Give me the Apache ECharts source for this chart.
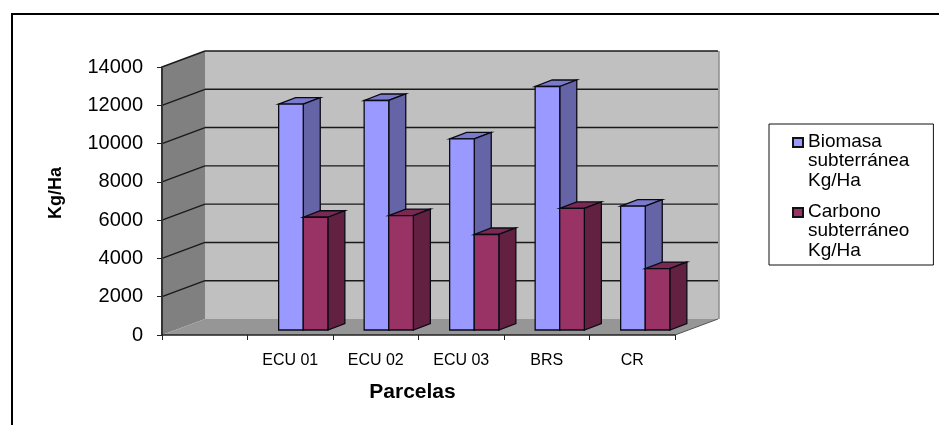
<!DOCTYPE html>
<html>
<head>
<meta charset="utf-8">
<style>
  html, body { margin: 0; padding: 0; background: #fff; }
  #chart { width: 939px; height: 425px; }
</style>
<script src="https://cdn.jsdelivr.net/npm/echarts@6/dist/echarts.min.js"></script>
</head>
<body>
<div id="chart"></div>
<script>
// first slot of the axis stays empty, as in the original
const categories = ["", "ECU 01", "ECU 02", "ECU 03", "BRS", "CR"];
const biomasa = [null, 11800, 11990, 9980, 12720, 6470];
const carbono = [null, 5890, 5980, 4990, 6350, 3210];
const yTicks = [0, 2000, 4000, 6000, 8000, 10000, 12000, 14000];

const FONT = "Liberation Sans";
const LINE = "#1a1a1a";
// depth of the fake 3D box
const WALL_DX = 43, WALL_DY = -16;
// bars sit inside the box, they have less depth than it
const BAR_SHIFT_X = 13, BAR_SHIFT_Y = -5, BAR_DX = 17, BAR_DY = -6.5;
const BAR_W = 24.6 / 85.5;

const poly = (points, fill, stroke, lineWidth) => ({
  type: "polygon",
  shape: { points },
  style: { fill, stroke, lineWidth: lineWidth || 0 },
});

// back wall, side wall and floor
const renderBox = (params, api) => {
  const a = api.coord([0, 0]);
  const top = api.coord([0, 14000]);
  const size = api.size([1, 0])[0];
  const x0 = a[0] - size / 2;
  const x1 = x0 + size * categories.length;
  const y0 = a[1];
  const y1 = top[1];
  return {
    type: "group",
    children: [
      poly([[x0 + WALL_DX, y1 + WALL_DY], [x1 + WALL_DX + 1, y1 + WALL_DY], [x1 + WALL_DX + 1, y0 + WALL_DY], [x0 + WALL_DX, y0 + WALL_DY]], "#c0c0c0"),
      { type: "line", shape: { x1: x1 + WALL_DX + 1, y1: y1 + WALL_DY, x2: x1 + WALL_DX + 1, y2: y0 + WALL_DY }, style: { stroke: "#8c8c8c", lineWidth: 1.5 } },
      poly([[x0, y1], [x0 + WALL_DX, y1 + WALL_DY], [x0 + WALL_DX, y0 + WALL_DY], [x0, y0]], "#808080"),
      poly([[x0, y0], [x0 + WALL_DX, y0 + WALL_DY], [x1 + WALL_DX, y0 + WALL_DY], [x1, y0]], "#969696"),
    ],
  };
};

// one gridline: diagonal on the side wall then straight over the back wall
const renderGridline = (params, api) => {
  const v = api.value(0);
  const a = api.coord([0, v]);
  const size = api.size([1, 0])[0];
  const x0 = a[0] - size / 2;
  const x1 = x0 + size * categories.length;
  const y = a[1];
  const stroke = { stroke: LINE, lineWidth: 1.4 };
  if (v === 0) {
    return { type: "line", shape: { x1: x1, y1: y, x2: x1 + WALL_DX, y2: y + WALL_DY }, style: { stroke: "#555", lineWidth: 1 } };
  }
  return {
    type: "group",
    children: [
      { type: "line", shape: { x1: x0, y1: y, x2: x0 + WALL_DX, y2: y + WALL_DY }, style: stroke },
      { type: "line", shape: { x1: x0 + WALL_DX, y1: y + WALL_DY, x2: x1 + WALL_DX, y2: y + WALL_DY }, style: stroke },
    ],
  };
};

// 3D bar: front, top and right side faces
const makeBarRenderer = (slot, front, topFace, side) => (params, api) => {
  const cat = api.value(0);
  const p = api.coord([cat, api.value(1)]);
  const base = api.coord([cat, 0]);
  const w = api.size([1, 0])[0] * BAR_W;
  const xl = p[0] + BAR_SHIFT_X + (slot - 1) * w;
  const xr = xl + w;
  const yt = base[1] + BAR_SHIFT_Y - (base[1] - p[1]);
  const yb = base[1] + BAR_SHIFT_Y;
  const edge = "#0a0a14";
  return {
    type: "group",
    children: [
      poly([[xl, yt], [xr, yt], [xr + BAR_DX, yt + BAR_DY], [xl + BAR_DX, yt + BAR_DY]], topFace, edge, 1.3),
      poly([[xr, yt], [xr + BAR_DX, yt + BAR_DY], [xr + BAR_DX, yb + BAR_DY], [xr, yb]], side, edge, 1.3),
      poly([[xl, yt], [xr, yt], [xr, yb], [xl, yb]], front, edge, 1.3),
    ],
  };
};

const barData = (values) =>
  values.map((v, i) => [i, v]).filter((d) => d[1] !== null);

const chart = echarts.init(document.getElementById("chart"), null, { renderer: "canvas" });
chart.setOption({
  animation: false,
  backgroundColor: "#fff",
  textStyle: { fontFamily: FONT },
  grid: { left: 162, top: 67, width: 513, height: 268, containLabel: false },
  xAxis: {
    type: "category",
    data: categories,
    name: "Parcelas",
    nameLocation: "middle",
    nameGap: 47,
    nameTextStyle: { fontFamily: FONT, fontSize: 21, fontWeight: "bold", color: "#000", padding: [0, 12, 0, 0] },
    axisLine: { lineStyle: { color: "#222", width: 1.5 } },
    axisTick: { show: true, length: 5, lineStyle: { color: "#222", width: 1 } },
    axisLabel: { interval: 0, margin: 18, fontFamily: FONT, fontSize: 16, color: "#000" },
    splitLine: { show: false },
    z: 5,
  },
  yAxis: {
    type: "value",
    min: 0,
    max: 14000,
    interval: 2000,
    name: "Kg/Ha",
    nameLocation: "middle",
    nameGap: 97,
    nameRotate: 90,
    nameTextStyle: { fontFamily: FONT, fontSize: 18, fontWeight: "bold", color: "#000", padding: [0, 0, 0, 16] },
    axisLine: { show: true, lineStyle: { color: "#333", width: 2 } },
    axisTick: { show: true, length: 5, lineStyle: { color: "#222", width: 1 } },
    axisLabel: { margin: 19, fontFamily: FONT, fontSize: 20, color: "#000", formatter: (v) => String(v) },
    splitLine: { show: false },
    z: 5,
  },
  legend: {
    left: 769,
    top: 124,
    orient: "vertical",
    data: ["Biomasa\nsubterránea\nKg/Ha", "Carbono\nsubterráneo\nKg/Ha"],
    backgroundColor: "#fff",
    borderColor: "#111",
    borderWidth: 1,
    borderRadius: 0,
    padding: [7, 24, 4, 23],
    itemGap: 10,
    itemWidth: 10,
    itemHeight: 58,
    // square on the first text line, zero length marks keep the icon tall
    icon: "path://M0 6H10V15H0Z M0 0L0 0 M0 58L0 58",
    textStyle: { fontFamily: FONT, fontSize: 19, color: "#000", lineHeight: 19.5 },
  },
  series: [
    {
      type: "custom",
      name: "caja",
      silent: true,
      clip: false,
      z: 1,
      data: [[0]],
      renderItem: renderBox,
    },
    {
      type: "custom",
      name: "lineas",
      silent: true,
      clip: false,
      z: 2,
      data: yTicks.map((t) => [t]),
      encode: { y: 0 },
      renderItem: renderGridline,
    },
    {
      type: "custom",
      name: "Biomasa\nsubterránea\nKg/Ha",
      clip: false,
      z: 3,
      itemStyle: { color: "#9999ff", borderColor: "#111", borderWidth: 1.5 },
      data: barData(biomasa),
      encode: { x: 0, y: 1 },
      renderItem: makeBarRenderer(0, "#9999ff", "#7a7acc", "#6464a6"),
    },
    {
      type: "custom",
      name: "Carbono\nsubterráneo\nKg/Ha",
      clip: false,
      z: 4,
      itemStyle: { color: "#993366", borderColor: "#111", borderWidth: 1.5 },
      data: barData(carbono),
      encode: { x: 0, y: 1 },
      renderItem: makeBarRenderer(1, "#993366", "#7a2952", "#632142"),
    },
  ],
  // page frame of the scanned figure, only top and left sides show
  graphic: [
    { type: "line", shape: { x1: 11, y1: 14, x2: 939, y2: 14 }, style: { stroke: "#000", lineWidth: 2 } },
    { type: "line", shape: { x1: 12, y1: 14, x2: 12, y2: 425 }, style: { stroke: "#000", lineWidth: 2 } },
  ],
});
</script>
</body>
</html>
